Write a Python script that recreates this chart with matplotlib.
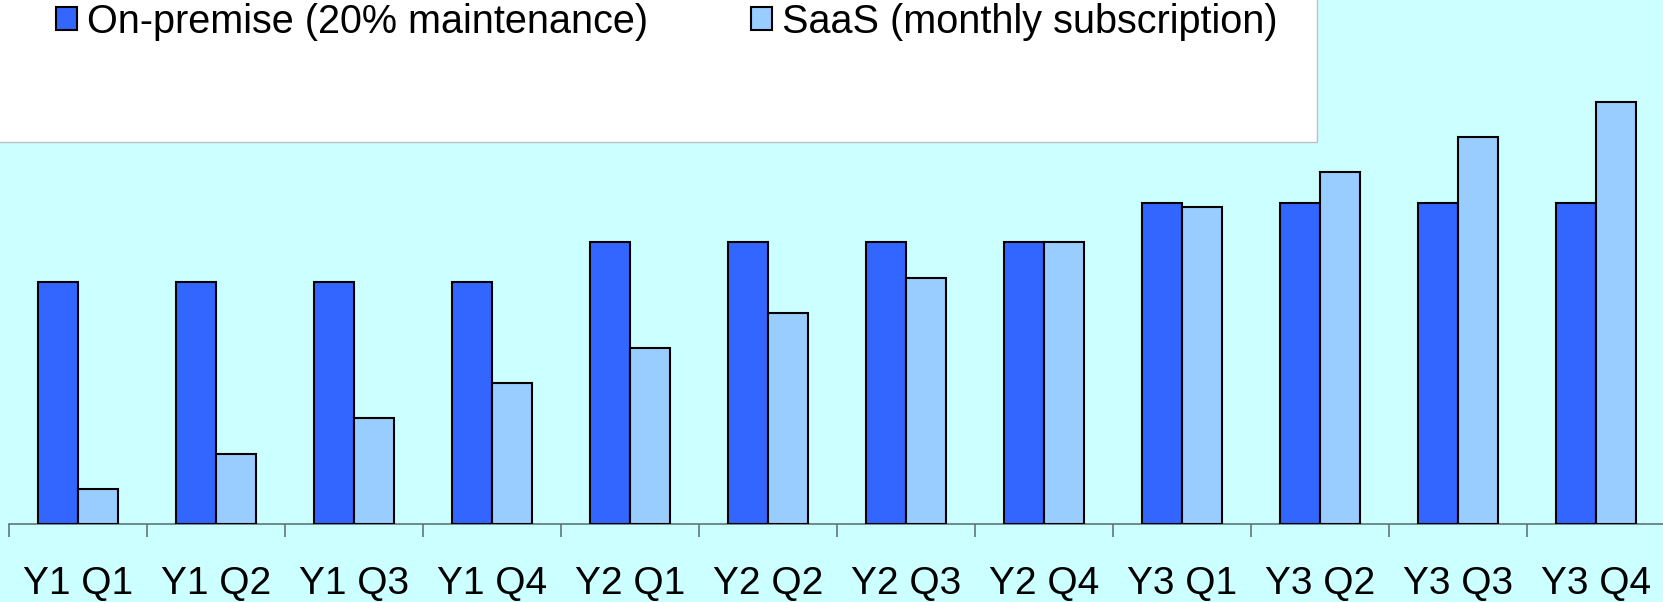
import numpy as np
from matplotlib import pyplot as plt
from matplotlib.patches import Patch, Rectangle

plt.rcParams['font.family'] = ['Liberation Sans', 'DejaVu Sans']

# quarters along the x axis
quarters = ['Y1 Q1', 'Y1 Q2', 'Y1 Q3', 'Y1 Q4',
            'Y2 Q1', 'Y2 Q2', 'Y2 Q3', 'Y2 Q4',
            'Y3 Q1', 'Y3 Q2', 'Y3 Q3', 'Y3 Q4']
# cumulative cost (relative units)
on_premise = [6.875, 6.875, 6.875, 6.875,
              8.0, 8.0, 8.0, 8.0,
              9.125, 9.125, 9.125, 9.125]
saas = [1.0, 2.0, 3.0, 4.0, 5.0, 6.0, 7.0, 8.0, 9.0, 10.0, 11.0, 12.0]
series_names = ['On-premise (20% maintenance)', 'SaaS (monthly subscription)']

bg = '#CCFFFF'
c_prem = '#3366FF'
c_saas = '#99CCFF'

W, H = 1663, 602
fig = plt.figure(figsize=(W / 100, H / 100), dpi=100)
fig.patch.set_facecolor(bg)

ax = fig.add_axes((9 / W, (H - 524) / H, 1656 / W, 524 / H))
ax.set_facecolor(bg)

x = np.arange(len(quarters))
bw = 40 / 138
ax.bar(x - bw / 2, on_premise, bw, color=c_prem, edgecolor='black', linewidth=1.5, zorder=3)
ax.bar(x + bw / 2, saas, bw, color=c_saas, edgecolor='black', linewidth=1.5, zorder=3)

ax.set_xlim(-0.5, len(quarters) - 0.5)
ax.set_ylim(0, 524 / 35.2)

for s in ['left', 'right', 'top']:
    ax.spines[s].set_visible(False)
ax.spines['bottom'].set_color('#5f7878')
ax.spines['bottom'].set_linewidth(1.2)
ax.set_yticks([])

ax.set_xticks(x)
ax.set_xticklabels(quarters, fontsize=28)
ax.tick_params(axis='x', which='major', length=0, pad=30)
ax.set_xticks(np.arange(-0.5, len(quarters)), minor=True)
ax.tick_params(axis='x', which='minor', length=9, width=1.2, color='#5f7878', direction='out')

# legend box (white panel in the top-left corner)
fig.patches.append(Rectangle((-0.01, 1 - 142 / H), 1317 / W + 0.01, 142 / H + 0.01,
                             transform=fig.transFigure, facecolor='white',
                             edgecolor='#c0c0c0', linewidth=1, zorder=1))
handles = [Patch(facecolor=c_prem, edgecolor='black', linewidth=1.5),
           Patch(facecolor=c_saas, edgecolor='black', linewidth=1.5)]
leg = fig.legend(handles, series_names, loc='upper left', ncol=2,
                 bbox_to_anchor=(40 / W, 1 + 13 / H), frameon=False, fontsize=28.5,
                 handlelength=0.53, handleheight=0.53, handletextpad=0.25,
                 columnspacing=2.6, borderaxespad=0)
leg.set_zorder(5)

fig.savefig('out.png', dpi=100, facecolor=bg)
